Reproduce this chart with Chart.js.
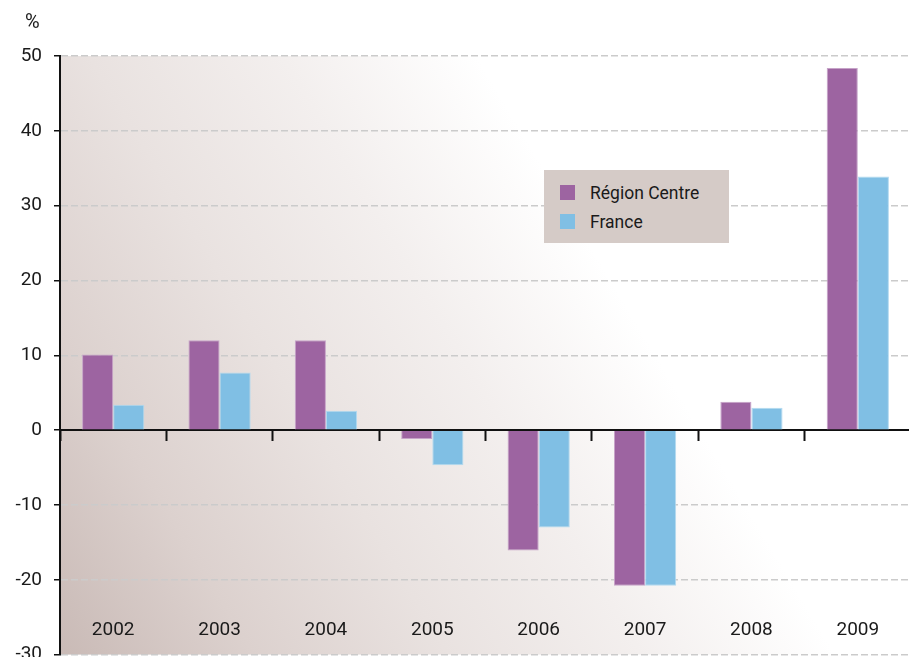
<!DOCTYPE html>
<html>
<head>
<meta charset="utf-8">
<script src="https://cdn.jsdelivr.net/npm/chart.js@4/dist/chart.umd.min.js"></script>
<style>
  html, body { margin: 0; padding: 0; background: #ffffff; overflow: hidden; }
  #wrap { position: relative; width: 920px; height: 678px; }
  #unit { position: absolute; left: 25px; top: 9px; font: 20px Roboto, sans-serif; color: #1a1a1a; }
  #legend { position: absolute; left: 544px; top: 170px; width: 185px; height: 73px; background: #d5cbc7; font: 17.5px Roboto, sans-serif; color: #1a1a1a; }
  .item { position: absolute; left: 16px; height: 16px; line-height: 16px; white-space: nowrap; }
  .sw { display: inline-block; width: 15px; height: 15px; vertical-align: top; margin-right: 15px; }
</style>
</head>
<body>
<div id="wrap">
  <canvas id="c" width="920" height="678"></canvas>
  <div id="unit">%</div>
  <div id="legend"></div>
</div>
<script>
const years = ["2002", "2003", "2004", "2005", "2006", "2007", "2008", "2009"];
const regionCentre = [10.1, 12.0, 12.0, -1.2, -16.1, -20.8, 3.8, 48.4];
const france = [3.4, 7.7, 2.6, -4.7, -13.0, -20.8, 3.0, 33.9];
const seriesNames = ["Région Centre", "France"];
const seriesColors = ["#9d64a1", "#80bfe4"];
const seriesBorders = ["#c6a3c8", "#b3daf0"];
const yTicks = [50, 40, 30, 20, 10, 0, -10, -20, -30];

const bgPlugin = {
  id: 'bg',
  beforeDraw(chart) {
    const {ctx, chartArea: a} = chart;
    const g = ctx.createLinearGradient(a.left, a.bottom, a.left + 570, a.bottom - 342);
    g.addColorStop(0, '#c9bab6');
    g.addColorStop(0.25, '#dcd1ce');
    g.addColorStop(0.5, '#e9e2e0');
    g.addColorStop(0.75, '#f3efee');
    g.addColorStop(1, '#ffffff');
    ctx.save();
    ctx.fillStyle = g;
    ctx.fillRect(a.left, a.top, a.right - a.left, a.bottom - a.top);
    ctx.restore();
  }
};

const chart = new Chart(document.getElementById('c'), {
  type: 'bar',
  data: {
    labels: years,
    datasets: [
      { label: seriesNames[0], data: regionCentre, backgroundColor: seriesColors[0], borderColor: seriesBorders[0], borderWidth: 1, barPercentage: 1, categoryPercentage: 0.585 },
      { label: seriesNames[1], data: france, backgroundColor: seriesColors[1], borderColor: seriesBorders[1], borderWidth: 1, barPercentage: 1, categoryPercentage: 0.585 }
    ]
  },
  options: {
    responsive: false,
    animation: false,
    layout: { padding: { top: 56, right: 9, bottom: 15, left: 0 } },
    plugins: { legend: { display: false }, title: { display: false }, tooltip: { enabled: false } },
    scales: {
      x: {
        type: 'category',
        position: { y: 0 },
        offset: true,
        ticks: { display: false },
        grid: { display: true, offset: true, drawOnChartArea: false, drawTicks: true, tickLength: 10, tickColor: '#111', tickWidth: 2 },
        border: { display: true, color: '#111', width: 2 }
      },
      x2: {
        type: 'category',
        labels: years,
        position: { y: -24 },
        offset: true,
        ticks: { color: '#1a1a1a', font: { family: 'Roboto', size: 19 }, padding: 9, maxRotation: 0 },
        grid: { display: false, drawTicks: false },
        border: { display: false }
      },
      y: {
        min: -30,
        max: 50,
        afterFit(s) { s.width = 60; },
        afterBuildTicks(s) { s.ticks = yTicks.map(v => ({ value: v })); },
        ticks: { color: '#1a1a1a', font: { family: 'Roboto', size: 19 }, padding: 12, stepSize: 10 },
        grid: { color: '#cbcbcb', lineWidth: 1.5, tickColor: '#111', tickLength: 6, tickWidth: 1.5 },
        border: { display: true, color: '#111', width: 2, dash: [7, 3] }
      }
    }
  },
  plugins: [bgPlugin]
});

const leg = document.getElementById('legend');
seriesNames.forEach((n, i) => {
  const d = document.createElement('div');
  d.className = 'item';
  d.style.top = (15 + i * 29) + 'px';
  d.innerHTML = '<span class="sw" style="background:' + seriesColors[i] + '"></span>' + n;
  leg.appendChild(d);
});
</script>
</body>
</html>
